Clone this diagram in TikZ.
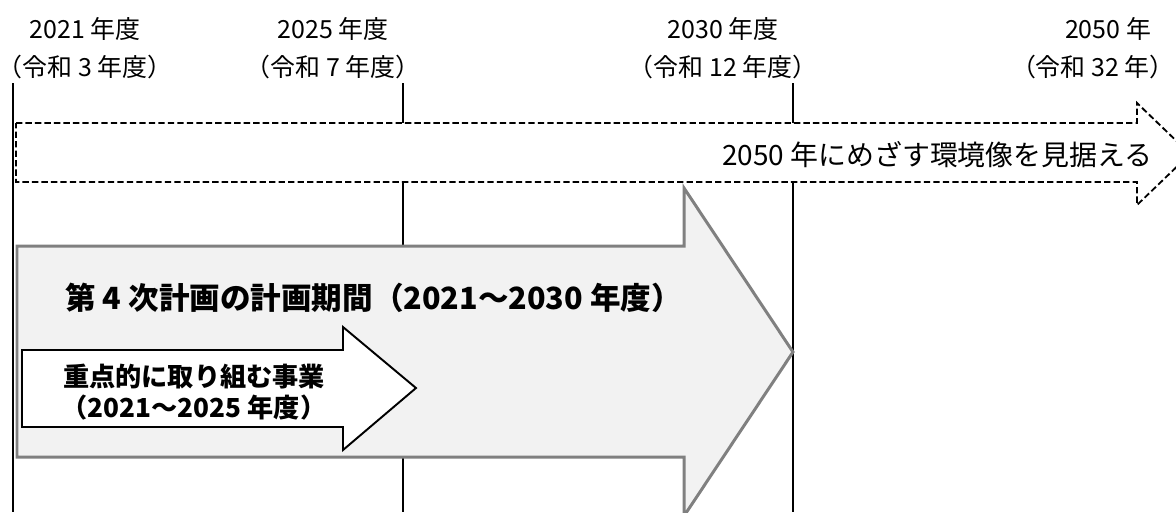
\documentclass[tikz,border=0pt]{standalone}
\usepackage{fontspec}
\setmainfont{Noto Sans CJK JP}
\usepackage{tikz}
\usetikzlibrary{positioning}

\begin{document}
\begin{tikzpicture}[
    x=0.02cm, y=-0.02cm,
    year/.style={font=\fontsize{14.2}{17}\selectfont, anchor=center, inner sep=0pt},
    timeline/.style={line width=1.1pt, black},
    vision/.style={draw=black, line width=1.05pt, dash pattern=on 3.6pt off 1.8pt, fill=white},
    plan/.style={draw=gray, line width=1.7pt, fill=gray!10},
    focus/.style={draw=black, line width=1.1pt, fill=white},
    bigtext/.style={font=\fontsize{17.4}{20}\selectfont\bfseries, inner sep=0pt},
    focustext/.style={font=\fontsize{14.9}{17.6}\selectfont\bfseries, align=center, inner sep=0pt}
]
\useasboundingbox (0,0) rectangle (1176,512);
\clip (0,0) rectangle (1176,512);

% Year labels
\node[year] (y2021) at (85,29) {2021 年度};
\node[year] (r2021) at (85,67) {（令和 3 年度）};
\node[year] (y2025) at (333,29) {2025 年度};
\node[year] (r2025) at (333,67) {（令和 7 年度）};
\node[year] (y2030) at (723,29) {2030 年度};
\node[year] (r2030) at (723,67) {（令和 12 年度）};
\node[year] (y2050) at (1108,29) {2050 年};
\node[year, anchor=east] (r2050) at (1175,67) {（令和 32 年）};

% Time lines
\coordinate (a2021) at (13,83);  \coordinate (b2021) at (13,512);
\coordinate (a2025) at (403,83); \coordinate (b2025) at (403,512);
\coordinate (a2030) at (793,83); \coordinate (b2030) at (793,512);
\draw[timeline] (a2021) -- (b2021);
\draw[timeline] (a2025) -- (b2025);
\draw[timeline] (a2030) -- (b2030);

% Vision arrow (dashed)
\draw[vision] (16,123) -- (1137,123) -- (1137,103) -- (1190,154)
    -- (1137,205) -- (1137,182) -- (16,182) -- cycle;
\node[font=\fontsize{15.9}{19}\selectfont, anchor=east, inner sep=0pt] (vision) at (1153,155)
    {2050 年にめざす環境像を見据える};

% Plan period arrow
\draw[plan] (17,246) -- (684,246) -- (684,188) -- (793,352)
    -- (684,516) -- (684,457) -- (17,457) -- cycle;
\node[bigtext, anchor=west] (plan) at (65,298) {第 4 次計画の計画期間（2021～2030 年度）};

% Focus arrow
\draw[focus] (22,350) -- (343,350) -- (343,327) -- (416,388)
    -- (343,450) -- (343,427) -- (22,427) -- cycle;
\node[focustext] (focus) at (194,392) {重点的に取り組む事業\\（2021～2025 年度）};

\end{tikzpicture}
\end{document}
